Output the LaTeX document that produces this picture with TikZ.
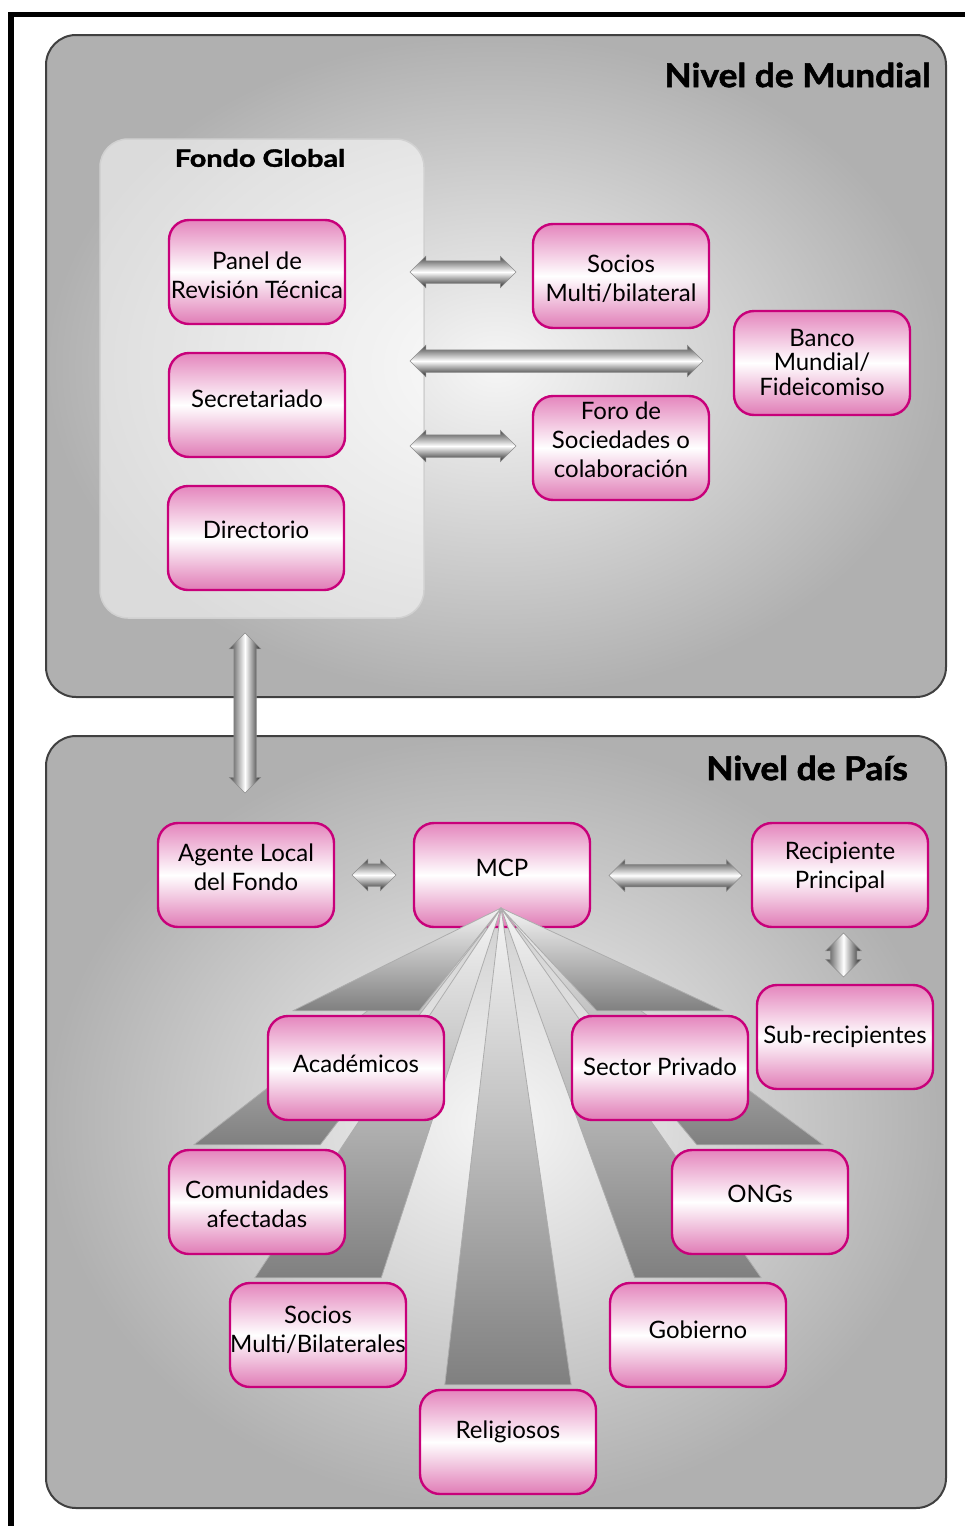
\documentclass[tikz,border=0pt]{standalone}
\usepackage{fontspec}
\setmainfont{Lato}
\usetikzlibrary{shapes.arrows,calc}
\definecolor{mag}{RGB}{200,0,122}
\definecolor{pinkA}{RGB}{228,134,189}
\definecolor{pinkB}{RGB}{224,124,182}
\definecolor{panelOut}{RGB}{176,176,176}
\definecolor{panelIn}{RGB}{246,246,246}
\begin{document}
\begin{tikzpicture}[x=1pt,y=-1pt,
  panel/.style={rounded corners=30pt, draw=black!75, line width=2pt, inner color=panelIn, outer color=panelOut},
  pinkbox/.style={draw=mag, line width=2.4pt, rounded corners=20pt, minimum width=176pt, minimum height=104pt, inner sep=0pt, top color=pinkA, bottom color=pinkB, middle color=white},
  boxtext/.style={align=center, font=\fontsize{24}{29}\selectfont, inner sep=0pt},
  title/.style={font=\fontsize{33}{36}\selectfont\bfseries\addfontfeature{FakeBold=1.6}, anchor=east, inner sep=0pt},
  harrow/.style={double arrow, double arrow head extend=4.5pt, inner xsep=0pt, inner ysep=11pt, draw=black!45, line width=0.5pt, top color=black!72, bottom color=black!85, middle color=white},
  varrow/.style={double arrow, shape border rotate=90, double arrow head extend=4.5pt, inner ysep=0pt, inner xsep=11pt, draw=black!45, line width=0.5pt, left color=black!72, right color=black!85, middle color=white},
  wedge/.style={top color=black!4, bottom color=black!50},
  wedgeline/.style={draw=black!32, line width=0.8pt, line join=round}
]
\useasboundingbox (0,0) rectangle (965,1526);
% outer frame
\draw[line width=5.5pt] (11,1540) -- (11,14.5) -- (980,14.5);

% ===== top panel =====
\path[panel] (46,35) rectangle (946,697);
\node[title] (tmund) at (931,75) {\scalebox{1.07}[1]{Nivel de Mundial}};
\path[rounded corners=28pt, draw=black!18, line width=1.5pt, fill=white, fill opacity=0.55] (100,139) rectangle (424,618);
\node[font=\fontsize{24}{26}\selectfont\bfseries\addfontfeature{FakeBold=1.4}, inner sep=0pt] (tfondo) at (260,158) {\scalebox{1.2}[1]{Fondo Global}};

\node[pinkbox] (panel) at (257,272) {};
\node[boxtext] (panel-t) at ($(panel.center)+(0,3)$) {Panel de\\Revisión Técnica};
\node[pinkbox] (sec) at (257,405) {};
\node[boxtext] (sec-t) at ($(sec.center)+(0,-6)$) {Secretariado};
\node[pinkbox] (dir) at (256,538) {};
\node[boxtext] (dir-t) at ($(dir.center)+(0,-8)$) {Directorio};
\node[pinkbox] (socios) at (621,276) {};
\node[boxtext] (socios-t) at ($(socios.center)+(0,3)$) {Socios\\Multi/bilateral};
\node[pinkbox] (banco) at (822,363) {};
\node[boxtext, font=\fontsize{24}{24.5}\selectfont] (banco-t) at ($(banco.center)+(0,-1)$) {Banco\\Mundial/\\Fideicomiso};
\node[pinkbox] (foro) at (621,448) {};
\node[boxtext] (foro-t) at ($(foro.center)+(0,-8)$) {Foro de\\Sociedades o\\colaboración};

\node[harrow, minimum height=106pt] (a1) at (463,272) {};
\node[harrow, minimum height=293pt] (a2) at (556.5,361) {};
\node[harrow, minimum height=106pt] (a3) at (463,446) {};

% ===== bottom panel =====
\path[panel] (46,736) rectangle (946,1508);
\node[title] (tpais) at (908,768) {\scalebox{1.07}[1]{Nivel de País}};

\node[pinkbox] (mcp) at (502,875) {};
\node[boxtext] (mcp-t) at ($(mcp.center)+(0,-7)$) {MCP};

\coordinate (apex) at (501,908);
\newcommand{\wedgeto}[1]{%
  \shade[wedge] (apex) -- ($(#1.north west)+(26,-4)$) -- ($(#1.north east)+(-26,-4)$) -- cycle;
  \draw[wedgeline] (apex) -- ($(#1.north west)+(26,-4)$) -- ($(#1.north east)+(-26,-4)$) -- cycle;}
\path (508,1442) node[pinkbox, draw=none, shade=none, fill=none] (relig) {};
\path (318,1335) node[pinkbox, draw=none, shade=none, fill=none] (socb) {};
\path (698,1335) node[pinkbox, draw=none, shade=none, fill=none] (gob) {};
\path (257,1202) node[pinkbox, draw=none, shade=none, fill=none] (comun) {};
\path (760,1202) node[pinkbox, draw=none, shade=none, fill=none] (ongs) {};
\path (356,1068) node[pinkbox, draw=none, shade=none, fill=none] (acad) {};
\path (660,1068) node[pinkbox, draw=none, shade=none, fill=none] (sector) {};
\wedgeto{relig}
\wedgeto{socb}
\wedgeto{gob}
\wedgeto{comun}
\wedgeto{ongs}
\wedgeto{acad}
\wedgeto{sector}

\node[pinkbox] (agente) at (246,875) {};
\node[boxtext] (agente-t) at ($(agente.center)+(0,-8)$) {Agente Local\\del Fondo};
\node[pinkbox] (recip) at (840,875) {};
\node[boxtext] (recip-t) at ($(recip.center)+(0,-8)$) {Recipiente\\Principal};
\node[pinkbox] (sub) at (845,1037) {};
\node[boxtext] (sub-t) at ($(sub.center)+(0,0)$) {Sub-recipientes};
\node[pinkbox] (acadb) at (acad) {};
\node[boxtext] (acad-t) at ($(acad.center)+(0,-4)$) {Académicos};
\node[pinkbox] (sectorb) at (sector) {};
\node[boxtext] (sector-t) at ($(sector.center)+(0,-1)$) {Sector Privado};
\node[pinkbox] (comunb) at (comun) {};
\node[boxtext] (comun-t) at ($(comun.center)+(0,2)$) {Comunidades\\afectadas};
\node[pinkbox] (ongsb) at (ongs) {};
\node[boxtext] (ongs-t) at ($(ongs.center)+(0,-8)$) {ONGs};
\node[pinkbox] (socbb) at (socb) {};
\node[boxtext] (socb-t) at ($(socb.center)+(0,-5)$) {Socios\\Multi/Bilaterales};
\node[pinkbox] (gobb) at (gob) {};
\node[boxtext] (gob-t) at ($(gob.center)+(0,-5)$) {Gobierno};
\node[pinkbox] (religb) at (relig) {};
\node[boxtext] (relig-t) at ($(relig.center)+(0,-10)$) {Religiosos};

\node[harrow, minimum height=44pt] (a4) at (374,875) {};
\node[harrow, minimum height=133pt] (a5) at (675.5,875.5) {};
\node[varrow, minimum height=44pt, inner xsep=13pt] (a6) at (843.5,955) {};
\node[varrow, minimum height=160pt] (a7) at (245,713) {};
\end{tikzpicture}
\end{document}
